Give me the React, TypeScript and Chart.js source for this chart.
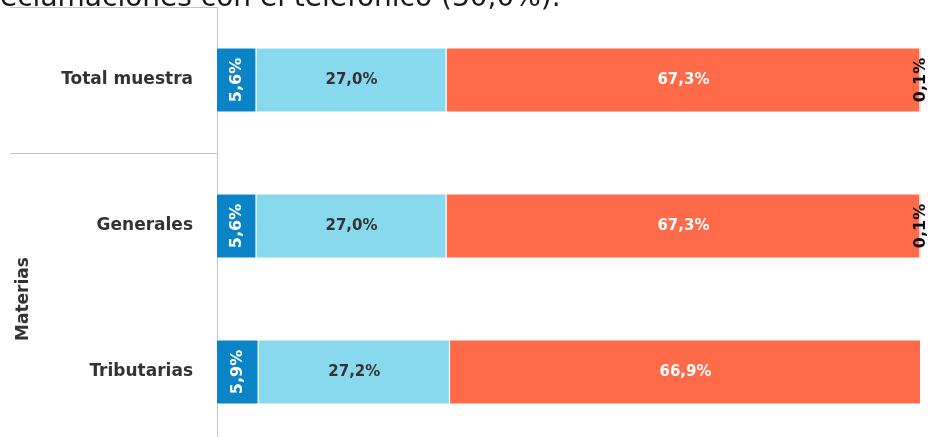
import { useEffect, useRef } from "react";
import { Chart, registerables } from "chart.js";

Chart.register(...registerables);

const categories = ["Total muestra", "Generales", "Tributarias"];
const seriesNames = ["Serie 1", "Serie 2", "Serie 3", "Serie 4"];
const series1 = [5.6, 5.6, 5.9];
const series2 = [27.0, 27.0, 27.2];
const series3 = [67.3, 67.3, 66.9];
const series4 = [0.1, 0.1, 0];
const groupLabel = "Materias";
const titleText = "eclamaciones con el telefónico (30,0%).";

const colors = ["#0A84C6", "#88D9EE", "#FF6A48", "#8C8C8C"];
const labelColors = ["#ffffff", "#333333", "#ffffff", "#111111"];
const rotated = [true, false, false, true];

const fmt = (v: number) => v.toFixed(1).replace(".", ",") + "%";

const FONT = "'DejaVu Sans', Verdana, sans-serif";

const extras = {
  id: "extras",
  afterDatasetsDraw(chart: any) {
    const ctx = chart.ctx;
    chart.data.datasets.forEach((ds: any, di: number) => {
      const meta = chart.getDatasetMeta(di);
      meta.data.forEach((bar: any, i: number) => {
        const v = ds.data[i];
        if (!v) return;
        const { x, y, base } = bar.getProps(["x", "y", "base"], true);
        const cx = (x + base) / 2;
        ctx.save();
        ctx.fillStyle = labelColors[di];
        ctx.textAlign = "center";
        ctx.textBaseline = "middle";
        if (rotated[di]) {
          ctx.font = `bold 16px ${FONT}`;
          ctx.translate(cx, y);
          ctx.rotate(-Math.PI / 2);
          ctx.fillText(fmt(v), 0, 0);
        } else {
          ctx.font = `bold 15px ${FONT}`;
          ctx.fillText(fmt(v), cx, y);
        }
        ctx.restore();
      });
    });
  },
  afterDraw(chart: any) {
    const ctx = chart.ctx;
    const area = chart.chartArea;
    const yScale = chart.scales.y;
    const y0 = yScale.getPixelForValue(0);
    const y1 = yScale.getPixelForValue(1);
    const y2 = yScale.getPixelForValue(2);
    ctx.save();
    ctx.strokeStyle = "#c4c4c4";
    ctx.lineWidth = 1;
    ctx.beginPath();
    ctx.moveTo(10, Math.round(area.top) + 0.5);
    ctx.lineTo(area.left, Math.round(area.top) + 0.5);
    const sep = Math.round((y0 + y1) / 2) + 0.5;
    ctx.moveTo(10, sep);
    ctx.lineTo(area.left, sep);
    ctx.stroke();

    ctx.fillStyle = "#333333";
    ctx.font = `bold 17px ${FONT}`;
    ctx.textAlign = "center";
    ctx.textBaseline = "middle";
    ctx.translate(24, (y1 + y2) / 2);
    ctx.rotate(-Math.PI / 2);
    ctx.fillText(groupLabel, 0, 0);
    ctx.restore();

    ctx.save();
    ctx.fillStyle = "#1a1a1a";
    ctx.font = `28px ${FONT}`;
    ctx.textAlign = "left";
    ctx.textBaseline = "alphabetic";
    ctx.fillText(titleText, 0, 6);
    ctx.restore();
  },
};

export default function App() {
  const ref = useRef<HTMLCanvasElement>(null);
  useEffect(() => {
    if (!ref.current) return;
    const data = [series1, series2, series3, series4];
    const chart = new Chart(ref.current, {
      type: "bar",
      data: {
        labels: categories,
        datasets: data.map((d, i) => ({
          label: seriesNames[i],
          data: d,
          backgroundColor: colors[i],
          borderColor: "#ffffff",
          borderWidth: 1,
          categoryPercentage: 1,
          barPercentage: 0.445,
        })),
      },
      options: {
        indexAxis: "y",
        animation: false,
        responsive: true,
        maintainAspectRatio: false,
        layout: { padding: { left: 0, top: 7, right: 7, bottom: 0 } },
        plugins: {
          legend: { display: false },
          tooltip: { enabled: false },
          title: { display: false },
        },
        scales: {
          x: {
            stacked: true,
            min: 0,
            max: 100,
            display: false,
          },
          y: {
            stacked: true,
            grid: { display: false, drawTicks: false },
            border: { display: true, color: "#c4c4c4", width: 1 },
            ticks: {
              color: "#333333",
              padding: 24,
              font: { family: FONT, size: 17, weight: "bold" },
            },
            afterFit(scale: any) {
              scale.width = 217;
              scale.paddingTop = 0;
              scale.paddingBottom = 0;
            },
          },
        },
      },
      plugins: [extras],
    } as any);
    return () => chart.destroy();
  }, []);
  return (
    <div
      style={{
        position: "absolute",
        left: 0,
        top: 0,
        width: 928,
        height: 437,
        overflow: "hidden",
        background: "#fff",
      }}
    >
      <div style={{ position: "relative", width: 928, height: 445 }}>
        <canvas ref={ref} />
      </div>
    </div>
  );
}
